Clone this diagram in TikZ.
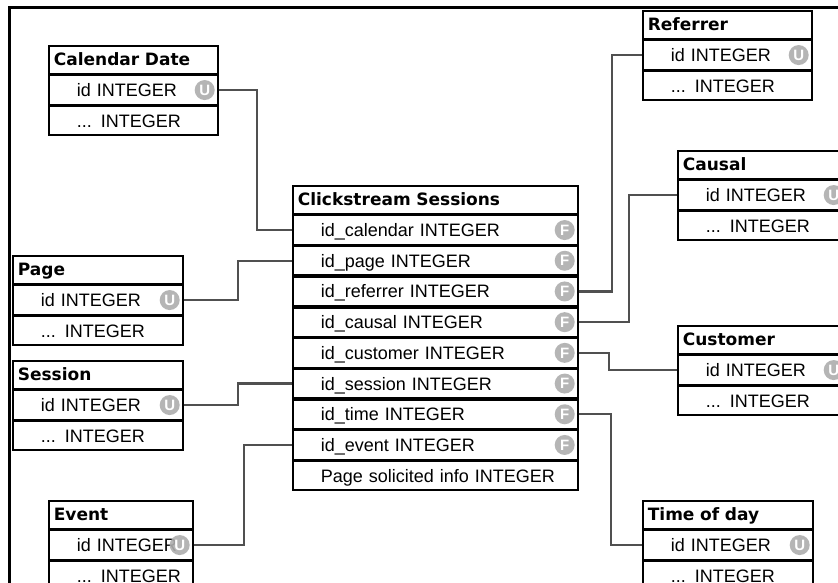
\documentclass[tikz,border=0pt]{standalone}
\usepackage{fontspec}
\setmainfont{Liberation Sans}
\newfontfamily\hdrfont{DejaVu Sans}
\definecolor{keygray}{HTML}{AEAEAE}
\definecolor{linkgray}{HTML}{505050}

% table pieces: header, row, key badge
\newcommand\dbhead[5]{\node[tblhead, minimum width=#4pt, text width=#4pt, anchor=north west] (#1) at (#2,#3) {\hspace*{5pt}#5};}
\newcommand\dbrow[4]{\node[tblrow, minimum width=#3pt, text width=#3pt, anchor=north west] (#1) at (#2.south west) {\hspace*{28pt}#4};}
\newcommand\dbkey[2]{\node[keymark] (#1k) at ([xshift=-14pt]#1.east) {#2};}

\begin{document}
\begin{tikzpicture}[x=1pt,y=-1pt,
  tblhead/.style={draw=black, line width=1.7pt, fill=white, rectangle, inner sep=0pt,
    minimum height=28pt, align=left, text height=12pt, text depth=0pt,
    font=\hdrfont\bfseries\fontsize{17}{20}\selectfont},
  tblrow/.style={draw=black, line width=1.7pt, fill=white, rectangle, inner sep=0pt,
    minimum height=29pt, align=left, text height=13pt, text depth=0pt,
    font=\fontsize{18}{21}\selectfont},
  keymark/.style={circle, fill=keygray, fill opacity=0.9, text opacity=1, text=white,
    minimum size=20pt, inner sep=0pt, font=\bfseries\fontsize{15}{15}\selectfont},
  link/.style={draw=linkgray, line width=2.2pt}]

\useasboundingbox (0,0) rectangle (838,582);
\clip (0,0) rectangle (838,582);

% outer frame
\draw[line width=3pt] (9,700) -- (9,7) -- (900,7);

% Calendar Date
\dbhead{cal}{48}{45}{169}{Calendar Date}
\dbrow{cal1}{cal}{169}{id INTEGER}
\dbrow{cal2}{cal1}{169}{... INTEGER}
\dbkey{cal1}{U}

% Referrer
\dbhead{ref}{642}{10}{169}{Referrer}
\dbrow{ref1}{ref}{169}{id INTEGER}
\dbrow{ref2}{ref1}{169}{... INTEGER}
\dbkey{ref1}{U}

% Clickstream Sessions (fact table)
\dbhead{cs}{292}{185}{285}{Clickstream Sessions}
\dbrow{cs1}{cs}{285}{id\_calendar INTEGER}
\dbrow{cs2}{cs1}{285}{id\_page INTEGER}
\dbrow{cs3}{cs2}{285}{id\_referrer INTEGER}
\dbrow{cs4}{cs3}{285}{id\_causal INTEGER}
\dbrow{cs5}{cs4}{285}{id\_customer INTEGER}
\dbrow{cs6}{cs5}{285}{id\_session INTEGER}
\dbrow{cs7}{cs6}{285}{id\_time INTEGER}
\dbrow{cs8}{cs7}{285}{id\_event INTEGER}
\dbrow{cs9}{cs8}{285}{Page solicited info INTEGER}
\foreach \r in {cs1,cs2,cs3,cs4,cs5,cs6,cs7,cs8}{\dbkey{\r}{F}}

% Page
\dbhead{pg}{12}{255}{170}{Page}
\dbrow{pg1}{pg}{170}{id INTEGER}
\dbrow{pg2}{pg1}{170}{... INTEGER}
\dbkey{pg1}{U}

% Session
\dbhead{ses}{12}{360}{170}{Session}
\dbrow{ses1}{ses}{170}{id INTEGER}
\dbrow{ses2}{ses1}{170}{... INTEGER}
\dbkey{ses1}{U}

% Causal
\dbhead{cau}{677}{150}{169}{Causal}
\dbrow{cau1}{cau}{169}{id INTEGER}
\dbrow{cau2}{cau1}{169}{... INTEGER}
\dbkey{cau1}{U}

% Customer
\dbhead{cus}{677}{325}{169}{Customer}
\dbrow{cus1}{cus}{169}{id INTEGER}
\dbrow{cus2}{cus1}{169}{... INTEGER}
\dbkey{cus1}{U}

% Event
\dbhead{ev}{48}{500}{144}{Event}
\dbrow{ev1}{ev}{144}{id INTEGER}
\dbrow{ev2}{ev1}{144}{... INTEGER}
\dbkey{ev1}{U}

% Time of day
\dbhead{tod}{642}{500}{170}{Time of day}
\dbrow{tod1}{tod}{170}{id INTEGER}
\dbrow{tod2}{tod1}{170}{... INTEGER}
\dbkey{tod1}{U}

% foreign key links
\draw[link] (cal1.east) -- ++(38,0) |- (cs1.west);
\draw[link] (pg1.east)  -- ++(54,0) |- (cs2.west);
\draw[link] (ses1.east) -- ++(54,0) |- (cs6.west);
\draw[link] (ev1.east)  -- ++(50,0) |- (cs8.west);
\draw[link] (cs3.east)  -- ++(33,0) |- (ref1.west);
\draw[link] (cs4.east)  -- ++(50,0) |- (cau1.west);
\draw[link] (cs5.east)  -- ++(30,0) |- (cus1.west);
\draw[link] (cs7.east)  -- ++(32,0) |- (tod1.west);
\end{tikzpicture}
\end{document}
